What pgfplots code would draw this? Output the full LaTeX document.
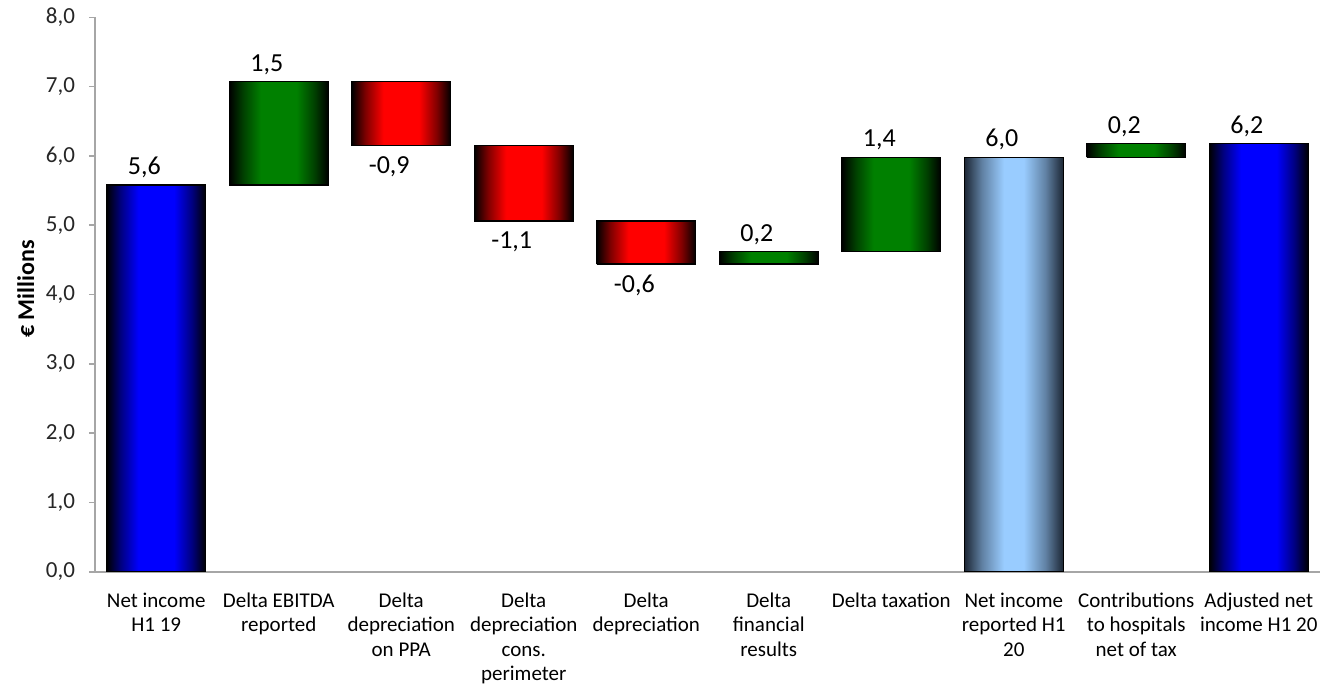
\documentclass[border=0pt]{standalone}
\usepackage{fontspec}
\setmainfont{Carlito}
\usepackage{pgfplots}
\pgfplotsset{compat=1.18}
\usepackage{pgfplotstable}

\definecolor{axisgray}{RGB}{166,166,166}
\definecolor{ticktext}{RGB}{38,38,38}
\definecolor{barblue}{RGB}{0,0,255}
\definecolor{bargreen}{RGB}{0,128,0}
\definecolor{barred}{RGB}{255,0,0}
\definecolor{barlight}{RGB}{153,204,255}
\definecolor{edgeslate}{RGB}{28,38,52}

% bar shadings: dark edges, flat bright centre (the bar covers 25bp..75bp)
\pgfdeclareverticalshading{wfblue}{100bp}{color(0bp)=(black); color(25bp)=(black);
  color(32bp)=(barblue!50!black); color(41bp)=(barblue); color(59bp)=(barblue);
  color(68bp)=(barblue!50!black); color(75bp)=(black); color(100bp)=(black)}
\pgfdeclareverticalshading{wfgreen}{100bp}{color(0bp)=(black); color(25bp)=(black);
  color(32bp)=(bargreen!50!black); color(41bp)=(bargreen); color(59bp)=(bargreen);
  color(68bp)=(bargreen!50!black); color(75bp)=(black); color(100bp)=(black)}
\pgfdeclareverticalshading{wfred}{100bp}{color(0bp)=(black); color(25bp)=(black);
  color(32bp)=(barred!50!black); color(41bp)=(barred); color(59bp)=(barred);
  color(68bp)=(barred!50!black); color(75bp)=(black); color(100bp)=(black)}
\pgfdeclareverticalshading{wflight}{100bp}{color(0bp)=(edgeslate); color(25bp)=(edgeslate);
  color(34bp)=(barlight!55!edgeslate); color(45bp)=(barlight); color(55bp)=(barlight);
  color(66bp)=(barlight!55!edgeslate); color(75bp)=(edgeslate); color(100bp)=(edgeslate)}

% Labels of the steps: position (x, y) and the value printed there (EUR m)
\pgfplotstableread{
x y v
0 5.58 5.58
1 7.07 1.49
5 4.62 0.18
6 5.98 1.36
7 5.98 5.98
8 6.18 0.20
9 6.18 6.18
}\uplabels
\pgfplotstableread{
x y v
2 6.15 -0.92
3 5.06 -1.09
4 4.44 -0.62
}\downlabels

% one floating bar: #1 category, #2 lower end, #3 upper end, #4 style
\newcommand\wfbar[4]{%
  \pgfmathsetmacro\wfxl{#1-0.404}%
  \pgfmathsetmacro\wfxr{#1+0.404}%
  \edef\wfdo{\noexpand\addplot[#4] coordinates
    {(\wfxl,#2) (\wfxr,#2) (\wfxr,#3) (\wfxl,#3) (\wfxl,#2)};}%
  \wfdo}

\pgfplotsset{
  barbase/.style={draw=black, line width=0.6pt, line join=miter, mark=none,
    shade, shading angle=90},
  blueshade/.style={barbase, shading=wfblue},
  lightshade/.style={barbase, shading=wflight},
  greenshade/.style={barbase, shading=wfgreen},
  redshade/.style={barbase, shading=wfred},
  vallabel/.style={draw=none, mark=none, point meta=explicit, nodes near coords,
    every node near coord/.append style={font=\fontsize{13}{15}\selectfont,
      text=black, xshift=-6pt}},
}

\begin{document}
\begin{tikzpicture}
\useasboundingbox (-47.5pt,-59.65pt) rectangle (615pt,285.85pt);

\begin{axis}[
  scale only axis, width=612.5pt, height=277.2pt,
  xmin=-0.5, xmax=9.5, ymin=0, ymax=8,
  enlargelimits=false,
  /pgf/number format/fixed,
  /pgf/number format/fixed zerofill,
  /pgf/number format/precision=1,
  /pgf/number format/use comma,
  /pgf/number format/assume math mode=true,
  axis x line*=bottom, axis y line*=left,
  axis line style={axisgray, line width=0.8pt},
  ytick={0,1,...,8},
  xtick={0,...,9},
  xticklabels={{Net income\\H1 19},{Delta EBITDA\\reported},{Delta\\depreciation\\on PPA},
    {Delta\\depreciation\\cons.\\perimeter},{Delta\\depreciation},{Delta\\financial\\results},
    {Delta taxation},{Net income\\reported H1\\20},{Contributions\\to hospitals\\net of tax},
    {Adjusted net\\income H1 20}},
  xtick style={draw=none},
  ytick style={axisgray, line width=0.8pt},
  tick align=outside, major tick length=3pt,
  yticklabel style={font=\fontsize{11.5}{13}\selectfont, text=ticktext, xshift=-3.5pt},
  xticklabel style={font=\fontsize{10.5}{12.25}\selectfont, align=center, text=black, yshift=-4pt},
  ylabel={€ Millions},
  ylabel style={font=\fontsize{12}{14}\selectfont\bfseries, text=black,
    at={(axis description cs:-0.0565,0.51)}, anchor=center},
]
% totals
\wfbar{0}{0}{5.58}{blueshade}
\wfbar{7}{0}{5.98}{lightshade}
\wfbar{9}{0}{6.18}{blueshade}
% increases
\wfbar{1}{5.58}{7.07}{greenshade}
\wfbar{5}{4.44}{4.62}{greenshade}
\wfbar{6}{4.62}{5.98}{greenshade}
\wfbar{8}{5.98}{6.18}{greenshade}
% decreases
\wfbar{2}{6.15}{7.07}{redshade}
\wfbar{3}{5.06}{6.15}{redshade}
\wfbar{4}{4.44}{5.06}{redshade}

% value labels
\addplot[vallabel, every node near coord/.append style={anchor=south}]
  table[x=x, y=y, meta=v] {\uplabels};
\addplot[vallabel, every node near coord/.append style={anchor=north, yshift=-2pt}]
  table[x=x, y=y, meta=v] {\downlabels};
\end{axis}
\end{tikzpicture}
\end{document}
